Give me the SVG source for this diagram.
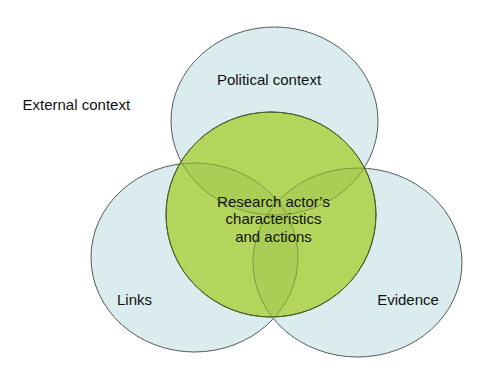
<svg xmlns="http://www.w3.org/2000/svg" width="492" height="378" viewBox="0 0 492 378">
<style>
.blue{fill:#dbecef;stroke:#555b5b;stroke-width:1}
.green{fill:#b4d55c;stroke:#4d5e2a;stroke-width:1}
.lens{fill:#aacd56;stroke:none}
.inner{fill:none;stroke:#7d9a3e;stroke-width:1}
.t{font-family:"Liberation Sans",Arial,sans-serif;font-size:15px;fill:#111}
</style>
<defs>
<ellipse id="eTop" cx="274.5" cy="121" rx="103.5" ry="94"/>
<ellipse id="eLeft" cx="194.5" cy="257.5" rx="103.5" ry="94.5"/>
<ellipse id="eRight" cx="357.5" cy="262.5" rx="104.5" ry="94.5"/>
<ellipse id="eGreen" cx="271" cy="214.5" rx="105" ry="102.5"/>
<clipPath id="cGreen"><use href="#eGreen"/></clipPath>
<clipPath id="cTop"><use href="#eTop"/></clipPath>
<clipPath id="cLeft"><use href="#eLeft"/></clipPath>
</defs>
<g id="external-context"><text class="t" x="22.5" y="110">External context</text></g>
<g id="political-context">
<use href="#eTop" class="blue"/>
<text class="t" x="269" y="85" text-anchor="middle">Political context</text>
</g>
<g id="links">
<use href="#eLeft" class="blue"/>
<text class="t" x="134.5" y="304.5" text-anchor="middle">Links</text>
</g>
<g id="evidence">
<use href="#eRight" class="blue"/>
<text class="t" x="408" y="304.5" text-anchor="middle">Evidence</text>
</g>
<g id="research-actor">
<use href="#eGreen" class="green"/>
<g clip-path="url(#cGreen)">
<g clip-path="url(#cTop)">
<use href="#eLeft" class="lens"/>
<use href="#eRight" class="lens"/>
</g>
<g clip-path="url(#cLeft)">
<use href="#eRight" class="lens"/>
</g>
<use href="#eTop" class="inner"/>
<use href="#eLeft" class="inner"/>
<use href="#eRight" class="inner"/>
</g>
<use href="#eGreen" fill="none" stroke="#4d5e2a" stroke-width="1"/>
<text class="t" text-anchor="middle"><tspan x="273.5" y="206.7">Research actor’s</tspan><tspan x="273.5" y="224.3">characteristics</tspan><tspan x="273.5" y="241.7">and actions</tspan></text>
</g>
<g id="connectors"/>
</svg>
